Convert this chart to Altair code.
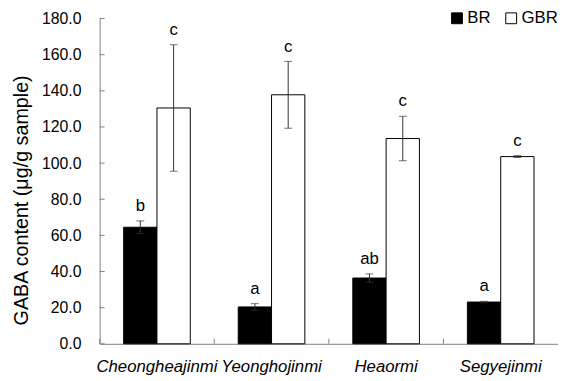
import altair as alt
import pandas as pd

cats = ["Cheongheajinmi", "Yeonghojinmi", "Heaormi", "Segyejinmi"]
br = [64.5, 20.4, 36.4, 23.1]
br_err = [3.5, 1.8, 2.3, 0.4]
gbr = [130.5, 137.8, 113.6, 103.6]
gbr_err = [35.0, 18.5, 12.3, 0.5]
br_letters = ["b", "a", "ab", "a"]
gbr_letters = ["c", "c", "c", "c"]
y_ticks = [0, 20, 40, 60, 80, 100, 120, 140, 160, 180]

rows = []
for i, c in enumerate(cats):
    rows.append(dict(cat=c, grp="BR", val=br[i], lo=br[i] - br_err[i], hi=br[i] + br_err[i], lab=br_letters[i]))
    rows.append(dict(cat=c, grp="GBR", val=gbr[i], lo=gbr[i] - gbr_err[i], hi=gbr[i] + gbr_err[i], lab=gbr_letters[i]))
df = pd.DataFrame(rows)
ticks_df = pd.DataFrame({"t": y_ticks})
cat_df = pd.DataFrame({"cat": cats})

FONT = "Liberation Sans"
W, H = 465, 330
Y_TITLE = "GABA content (μg/g sample)"

x_axis = alt.Axis(ticks=False, labelFontSize=17, labelFontStyle="italic",
                  labelAngle=0, labelPadding=15, labelColor="black",
                  domainColor="#808080", labelFont=FONT, labelOverlap=False)
y_axis = alt.Axis(values=y_ticks, format=".1f", ticks=False, grid=False,
                  labelFontSize=16, labelPadding=19, labelColor="black",
                  labelOverlap=False, labelFlush=False, tickCount=10,
                  titleFontSize=20, titleFontWeight="normal", titleColor="black",
                  titlePadding=10, titleY=184, domainColor="#808080", labelFont=FONT,
                  titleFont=FONT)

xs = alt.Scale(paddingInner=0, paddingOuter=0)
xa = alt.X("cat:N", sort=cats, title=None, scale=xs, axis=x_axis)
xo = alt.XOffset("grp:N", sort=["BR", "GBR"],
                 scale=alt.Scale(paddingInner=0, paddingOuter=0.72))
y_scale = alt.Scale(domain=[0, 180], nice=False)


def Y(field):
    return alt.Y(field, scale=y_scale, title=Y_TITLE, axis=y_axis)


bars = alt.Chart(df).mark_bar(stroke="black", strokeWidth=1).encode(
    x=xa,
    xOffset=xo,
    y=Y("val:Q"),
    fill=alt.Fill("grp:N", scale=alt.Scale(domain=["BR", "GBR"], range=["black", "white"]),
                  legend=alt.Legend(title=None, orient="none", legendX=354, legendY=-9,
                                    direction="horizontal", symbolType="square",
                                    symbolSize=121, symbolStrokeColor="black",
                                    symbolStrokeWidth=1, labelFontSize=17,
                                    labelFont=FONT, labelOffset=2, columnPadding=12,
                                    labelColor="black")),
)

err = alt.Chart(df).mark_rule(color="#333333", strokeWidth=1).encode(
    x=xa, xOffset=xo, y=Y("lo:Q"), y2="hi:Q")

cap_hi = alt.Chart(df).mark_tick(color="#333333", thickness=1, size=8, orient="horizontal").encode(
    x=xa, xOffset=xo, y=Y("hi:Q"))
cap_lo = alt.Chart(df).mark_tick(color="#333333", thickness=1, size=8, orient="horizontal").encode(
    x=xa, xOffset=xo, y=Y("lo:Q"))

labels = alt.Chart(df).mark_text(baseline="bottom", dy=-6, fontSize=17, font=FONT, color="black").encode(
    x=xa, xOffset=xo, y=Y("hi:Q"), text="lab:N")

yt = alt.Chart(ticks_df).mark_rule(color="#808080", strokeWidth=1).encode(
    y=Y("t:Q"), x=alt.value(0), x2=alt.value(5))

xt = alt.Chart(cat_df).mark_rule(color="#808080", strokeWidth=1).encode(
    x=alt.X("cat:N", sort=cats, title=None, scale=xs, axis=x_axis, bandPosition=0),
    y=alt.Y(datum=0, scale=y_scale, title=Y_TITLE, axis=y_axis), y2=alt.Y2(datum=2.8))

chart = alt.layer(bars, err, cap_hi, cap_lo, labels, yt, xt).properties(
    width=W, height=H,
    autosize=alt.AutoSizeParams(type="none"),
    padding={"left": 93, "top": 8, "right": 0, "bottom": 31},
).configure_view(stroke=None).configure_axis(grid=False, labelOverlap=False)

chart.save("out.html", embed_options={"renderer": "svg", "actions": False})
